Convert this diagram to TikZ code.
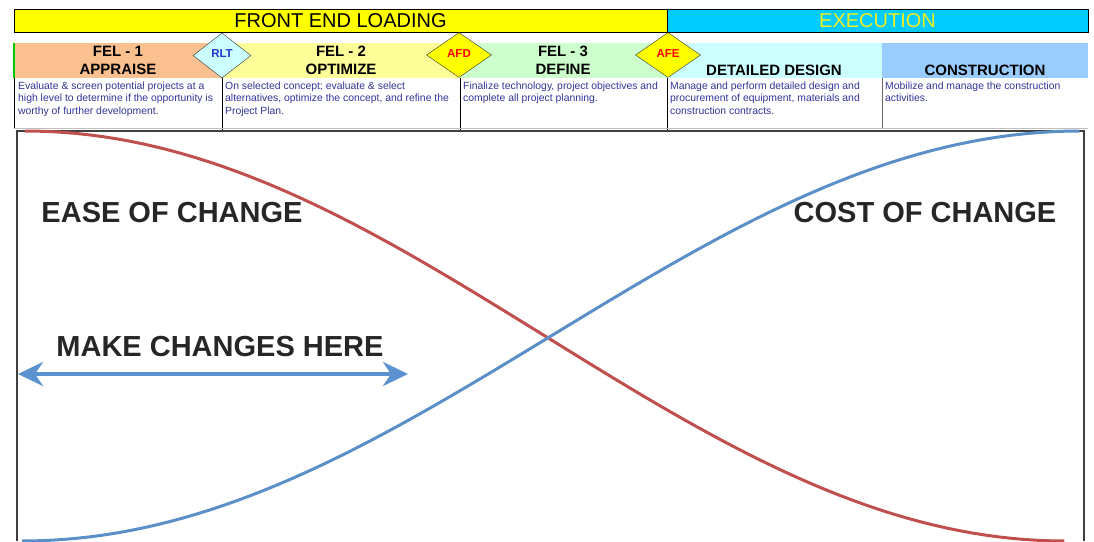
\documentclass[tikz,border=0pt]{standalone}
\usepackage{fontspec}
\setmainfont{Liberation Sans}
\usetikzlibrary{arrows.meta,shapes.geometric}

\definecolor{felyellow}{HTML}{FFFF00}
\definecolor{execcyan}{HTML}{00CCFF}
\definecolor{exectext}{HTML}{EEEE22}
\definecolor{fela}{HTML}{FAC090}
\definecolor{felb}{HTML}{FFFF99}
\definecolor{felc}{HTML}{CCFFCC}
\definecolor{detd}{HTML}{CCFFFF}
\definecolor{cons}{HTML}{99CCFF}
\definecolor{gatecyan}{HTML}{CCFFFF}
\definecolor{gatetext}{HTML}{2233CC}
\definecolor{descblue}{HTML}{333399}
\definecolor{easered}{HTML}{C0504D}
\definecolor{costblue}{HTML}{5B8FC8}
\definecolor{arrowblue}{HTML}{5A93D0}
\definecolor{edgegreen}{HTML}{00CC00}

\begin{document}
\begin{tikzpicture}[x=1pt,y=-1pt,
    band/.style = {rectangle,draw=black,thin,minimum height=23pt,inner sep=0pt,outer sep=0mm,font=\fontsize{20}{24}\selectfont},
    phase/.style = {rectangle,minimum height=35pt,inner sep=0pt,outer sep=0mm},
    title/.style = {align=center,inner sep=0pt,font=\fontsize{15}{18}\selectfont\bfseries},
    desc/.style = {anchor=north west,align=left,inner sep=0pt,text=descblue,font=\fontsize{10.4}{12.6}\selectfont},
    gate/.style = {diamond,draw=black!80,thin,minimum width=58pt,minimum height=45pt,inner sep=0pt,font=\fontsize{11.5}{13}\selectfont\bfseries},
    curvelabel/.style = {inner sep=0pt,text=black!85,font=\fontsize{29}{32}\selectfont\bfseries}]
\useasboundingbox (0,0) rectangle (1094,541);

% top band
\node[band,fill=felyellow,minimum width=653pt] (fel) at (340.5,20.5) {FRONT END LOADING};
\node[band,fill=execcyan,minimum width=421pt,text=exectext] (exe) at (877.5,20.5) {EXECUTION};

% phase row
\foreach \xl/\xr/\col [count=\j] in {14/222/fela, 222/460/felb, 460/667/felc, 667/882/detd, 882/1088/cons}
    \node[phase,fill=\col,minimum width={\xr-\xl}] (ph\j) at ({(\xl+\xr)/2},60.5) {};
\draw[edgegreen,line width=2pt] (ph1.north west) -- (ph1.south west);

\node[title] (t1) at (118,60) {FEL - 1\\APPRAISE};
\node[title] (t2) at (341,60) {FEL - 2\\OPTIMIZE};
\node[title] (t3) at (563,60) {FEL - 3\\DEFINE};
\node[title] (t4) at (774,70) {DETAILED DESIGN};
\node[title] (t5) at (985,70) {CONSTRUCTION};

% description row
\draw[black] (ph1.south west) -- ++(0,50);
\foreach \j in {2,3,4}
    \draw[black] (ph\j.south west) -- ++(0,53);
\draw[black!60] (ph5.south west) -- ++(0,50);
\draw[black!25] (ph1.south west) ++(0,50) -- (1088,128);

\node[desc] (d1) at (18,81.5) {Evaluate \& screen potential projects at a\\high level to determine if the opportunity is\\worthy of further development.};
\node[desc] (d2) at (225,81.5) {On selected concept; evaluate \& select\\alternatives, optimize the concept, and refine the\\Project Plan.};
\node[desc] (d3) at (463,81.5) {Finalize technology, project objectives and\\complete all project planning.};
\node[desc] (d4) at (670,81.5) {Manage and perform detailed design and\\procurement of equipment, materials and\\construction contracts.};
\node[desc] (d5) at (885,81.5) {Mobilize and manage the construction\\activities.};

% gates
\node[gate,fill=gatecyan,text=gatetext] (rlt) at (222,55.5) {\raisebox{3pt}{RLT}};
\node[gate,fill=felyellow,text=red,minimum width=65pt] (afd) at (459,55) {\raisebox{3pt}{AFD}};
\node[gate,fill=felyellow,text=red,minimum width=65pt] (afe) at (668,55) {\raisebox{3pt}{AFE}};

% chart
\draw[black!75,line width=2pt] (17,541) -- (17,131) -- (1084,131) -- (1084,541);
\draw[easered,line width=3pt] plot[domain=0:1,samples=80] ({25+1040*\x},{131+205*(1-cos(180*\x))});
\draw[costblue,line width=3pt] plot[domain=0:1,samples=80] ({22+1058*\x},{541-205*(1-cos(180*\x))});

\node[curvelabel] (ease) at (172,213) {EASE OF CHANGE};
\node[curvelabel] (cost) at (925,213) {COST OF CHANGE};
\node[curvelabel] (here) at (220,347) {MAKE CHANGES HERE};
\coordinate (hl) at (18,374);
\coordinate (hr) at (408,374);
\draw[arrowblue,line width=4pt,{Stealth[length=25pt,width=24pt,inset=8pt]}-{Stealth[length=25pt,width=24pt,inset=8pt]}] (hl) -- (hr);
\end{tikzpicture}
\end{document}
